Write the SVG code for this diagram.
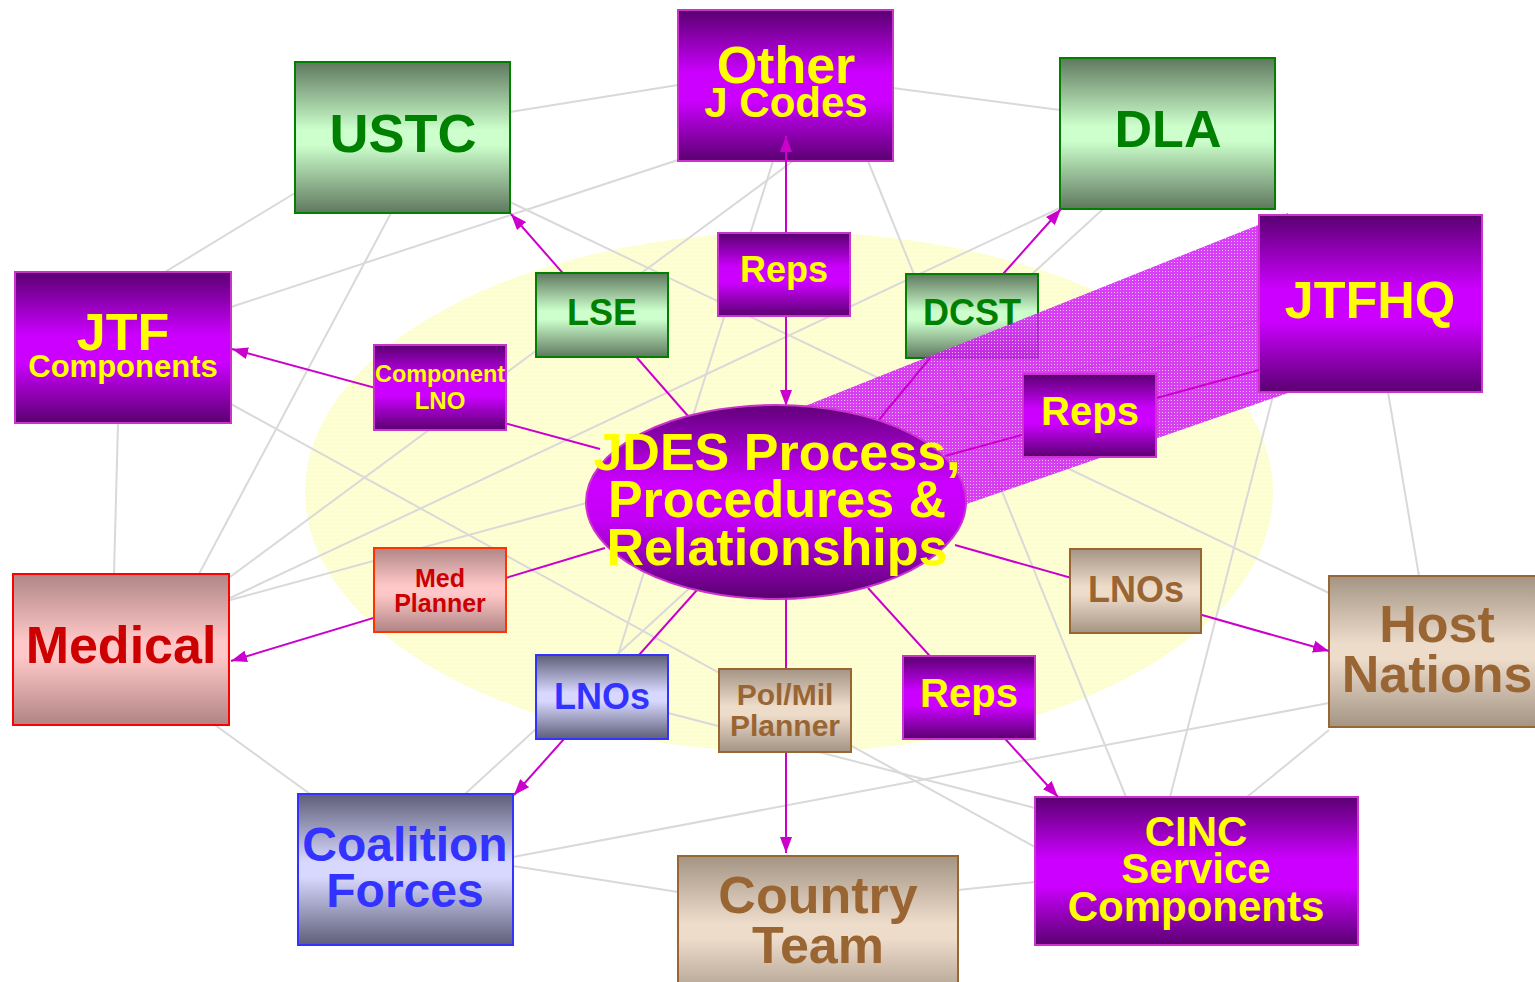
<svg xmlns="http://www.w3.org/2000/svg" width="1535" height="982" viewBox="0 0 1535 982">
<defs>
<style>
.gl{stroke:#d9d9d9;stroke-width:2;fill:none}
.mc{stroke:#cc00cc;stroke-width:2;fill:none}
.pu{fill:url(#gPu);stroke:#cc33cc;stroke-width:2}
.gr{fill:url(#gGr);stroke:#008000;stroke-width:2}
.rd{fill:url(#gRd);stroke:#ff0000;stroke-width:2}
.bl{fill:url(#gBl);stroke:#3333ff;stroke-width:2}
.tn{fill:url(#gTn);stroke:#996633;stroke-width:2}
text{font-family:"Liberation Sans",Arial,sans-serif;font-weight:bold;text-anchor:middle}
.ty{fill:#ffff00}
.tg{fill:#008000}
.tr{fill:#cc0000}
.tb{fill:#3333ff}
.tt{fill:#996633}
</style>
<linearGradient id="gPu" x1="0" y1="0" x2="0" y2="1">
<stop offset="0" stop-color="#5a0070"/><stop offset="0.42" stop-color="#cc00ff"/><stop offset="0.6" stop-color="#cc00ff"/><stop offset="1" stop-color="#5a0070"/>
</linearGradient>
<linearGradient id="gEl" x1="0" y1="0" x2="0" y2="1">
<stop offset="0" stop-color="#62007a"/><stop offset="0.4" stop-color="#cc00ff"/><stop offset="0.6" stop-color="#c400f5"/><stop offset="1" stop-color="#5a0070"/>
</linearGradient>
<linearGradient id="gGr" x1="0" y1="0" x2="0" y2="1">
<stop offset="0" stop-color="#5f785f"/><stop offset="0.45" stop-color="#ccffcc"/><stop offset="0.55" stop-color="#ccffcc"/><stop offset="1" stop-color="#5f785f"/>
</linearGradient>
<linearGradient id="gRd" x1="0" y1="0" x2="0" y2="1">
<stop offset="0" stop-color="#b08686"/><stop offset="0.45" stop-color="#ffc8c8"/><stop offset="0.55" stop-color="#ffc8c8"/><stop offset="1" stop-color="#b08484"/>
</linearGradient>
<linearGradient id="gBl" x1="0" y1="0" x2="0" y2="1">
<stop offset="0" stop-color="#5e5e78"/><stop offset="0.45" stop-color="#d8d8ff"/><stop offset="0.55" stop-color="#d8d8ff"/><stop offset="1" stop-color="#5e5e78"/>
</linearGradient>
<linearGradient id="gTn" x1="0" y1="0" x2="0" y2="1">
<stop offset="0" stop-color="#a39484"/><stop offset="0.45" stop-color="#eedccb"/><stop offset="0.55" stop-color="#eedccb"/><stop offset="1" stop-color="#a39484"/>
</linearGradient>
<pattern id="pY" width="4" height="4" patternUnits="userSpaceOnUse">
<rect width="4" height="4" fill="#fdfdd2"/><rect x="1" y="1" width="1" height="1" fill="#ffffff"/><rect x="3" y="2" width="1" height="1" fill="#ffffee"/>
</pattern>
<pattern id="pM" width="3" height="3" patternUnits="userSpaceOnUse">
<rect width="3" height="3" fill="#d11cf5" fill-opacity="0.85"/><rect x="1" y="1" width="1" height="1" fill="#ffffff" fill-opacity="0.7"/>
</pattern>
<marker id="ar" viewBox="0 0 16 12" refX="16" refY="6" markerWidth="16" markerHeight="12" markerUnits="userSpaceOnUse" orient="auto-start-reverse">
<path d="M0,0 L16,6 L0,12 Z" fill="#cc00cc"/>
</marker>
</defs>

<rect width="1535" height="982" fill="#ffffff"/>
<ellipse id="background" cx="789" cy="492" rx="484" ry="260" fill="url(#pY)"/>

<g id="gray-links">
<line class="gl" x1="510" y1="112" x2="678" y2="85"/>
<line class="gl" x1="893" y1="88" x2="1060" y2="110"/>
<line class="gl" x1="295" y1="193" x2="165" y2="272"/>
<line class="gl" x1="231" y1="307" x2="678" y2="160"/>
<line class="gl" x1="391" y1="213" x2="199" y2="574"/>
<line class="gl" x1="510" y1="202" x2="1329" y2="593"/>
<line class="gl" x1="793" y1="161" x2="230" y2="577"/>
<line class="gl" x1="868" y1="161" x2="1126" y2="797"/>
<line class="gl" x1="1060" y1="208" x2="230" y2="598"/>
<line class="gl" x1="1103" y1="209" x2="465" y2="794"/>
<line class="gl" x1="773" y1="161" x2="618" y2="655"/>
<line class="gl" x1="231" y1="404" x2="1035" y2="847"/>
<line class="gl" x1="118" y1="423" x2="114" y2="574"/>
<line class="gl" x1="230" y1="600" x2="1259" y2="320"/>
<line class="gl" x1="668" y1="713" x2="1035" y2="808"/>
<line class="gl" x1="1274" y1="392" x2="1170" y2="797"/>
<line class="gl" x1="1388" y1="392" x2="1419" y2="576"/>
<line class="gl" x1="1329" y1="730" x2="1247" y2="797"/>
<line class="gl" x1="513" y1="857" x2="1329" y2="703"/>
<line class="gl" x1="513" y1="866" x2="678" y2="892"/>
<line class="gl" x1="958" y1="890" x2="1035" y2="882"/>
<line class="gl" x1="215" y1="725" x2="310" y2="794"/>
</g>

<g id="node-dcst">
<rect class="gr" x="906" y="274" width="132" height="84"/>
<text class="tg" x="972" y="325" font-size="36">DCST</text>
</g>

<polygon id="jtfhq-band" points="790,412 1288,213 1288,393 900,527" fill="url(#pM)"/>

<g id="node-other">
<rect class="pu" x="678" y="10" width="215" height="151"/>
<text class="ty" x="786" y="83" font-size="52">Other</text>
<text class="ty" x="786" y="117" font-size="42">J Codes</text>
</g>
<g id="node-ustc">
<rect class="gr" x="295" y="62" width="215" height="151"/>
<text class="tg" x="403" y="152" font-size="54">USTC</text>
</g>
<g id="node-dla">
<rect class="gr" x="1060" y="58" width="215" height="151"/>
<text class="tg" x="1168" y="147" font-size="52">DLA</text>
</g>
<g id="node-jtfhq">
<rect class="pu" x="1259" y="215" width="223" height="177"/>
<text class="ty" x="1370" y="318" font-size="52">JTFHQ</text>
</g>
<g id="node-jtf">
<rect class="pu" x="15" y="272" width="216" height="151"/>
<text class="ty" x="123" y="350" font-size="52">JTF</text>
<text class="ty" x="123" y="377" font-size="31">Components</text>
</g>
<g id="node-medical">
<rect class="rd" x="13" y="574" width="216" height="151"/>
<text class="tr" x="121" y="663" font-size="52">Medical</text>
</g>
<g id="node-host">
<rect class="tn" x="1329" y="576" width="216" height="151"/>
<text class="tt" x="1437" y="642" font-size="52">Host</text>
<text class="tt" x="1437" y="692" font-size="52">Nations</text>
</g>
<g id="node-coalition">
<rect class="bl" x="298" y="794" width="215" height="151"/>
<text class="tb" x="405" y="861" font-size="48">Coalition</text>
<text class="tb" x="405" y="907" font-size="48">Forces</text>
</g>
<g id="node-country">
<rect class="tn" x="678" y="856" width="280" height="150"/>
<text class="tt" x="818" y="913" font-size="52">Country</text>
<text class="tt" x="818" y="963" font-size="52">Team</text>
</g>
<g id="node-cinc">
<rect class="pu" x="1035" y="797" width="323" height="148"/>
<text class="ty" x="1196" y="846" font-size="42">CINC</text>
<text class="ty" x="1196" y="883" font-size="42">Service</text>
<text class="ty" x="1196" y="921" font-size="42">Components</text>
</g>

<g id="connectors">
<path class="mc" d="M786,233 L786,136" marker-end="url(#ar)"/>
<path class="mc" d="M786,316 L786,406" marker-end="url(#ar)"/>
<path class="mc" d="M688,416 L511,214" marker-end="url(#ar)"/>
<path class="mc" d="M878,421 L930,358 M1003,274 L1061,209" marker-end="url(#ar)"/>
<path class="mc" d="M600,449 L232,349" marker-end="url(#ar)"/>
<path class="mc" d="M945,456 L1259,370"/>
<path class="mc" d="M605,548 L231,661" marker-end="url(#ar)"/>
<path class="mc" d="M697,590 L514,795" marker-end="url(#ar)"/>
<path class="mc" d="M786,598 L786,853" marker-end="url(#ar)"/>
<path class="mc" d="M868,588 L1058,797" marker-end="url(#ar)"/>
<path class="mc" d="M955,545 L1329,651" marker-end="url(#ar)"/>
</g>

<g id="node-jdes">
<ellipse cx="776" cy="502" rx="190" ry="97" fill="url(#gEl)" stroke="#cc33cc" stroke-width="2"/>
<text class="ty" x="777" y="470" font-size="52">JDES Process,</text>
<text class="ty" x="777" y="517" font-size="52">Procedures &amp;</text>
<text class="ty" x="777" y="565" font-size="52">Relationships</text>
</g>
<g id="node-component-lno">
<rect class="pu" x="374" y="345" width="132" height="85"/>
<text class="ty" x="440" y="382" font-size="24" textLength="130" lengthAdjust="spacingAndGlyphs">Component</text>
<text class="ty" x="440" y="409" font-size="24">LNO</text>
</g>
<g id="node-lse">
<rect class="gr" x="536" y="273" width="132" height="84"/>
<text class="tg" x="602" y="325" font-size="36">LSE</text>
</g>
<g id="node-reps-top">
<rect class="pu" x="718" y="233" width="132" height="83"/>
<text class="ty" x="784" y="282" font-size="36">Reps</text>
</g>
<g id="node-reps-right">
<rect class="pu" x="1023" y="374" width="133" height="83"/>
<text class="ty" x="1090" y="425" font-size="40">Reps</text>
</g>
<g id="node-med-planner">
<rect class="rd" x="374" y="548" width="132" height="84" style="stroke:#ff3300"/>
<text class="tr" x="440" y="587" font-size="25">Med</text>
<text class="tr" x="440" y="612" font-size="25">Planner</text>
</g>
<g id="node-lnos-blue">
<rect class="bl" x="536" y="655" width="132" height="84"/>
<text class="tb" x="602" y="709" font-size="36">LNOs</text>
</g>
<g id="node-polmil">
<rect class="tn" x="719" y="669" width="132" height="83"/>
<text class="tt" x="785" y="705" font-size="30">Pol/Mil</text>
<text class="tt" x="785" y="736" font-size="30">Planner</text>
</g>
<g id="node-reps-bottom">
<rect class="pu" x="903" y="656" width="132" height="83"/>
<text class="ty" x="969" y="707" font-size="40">Reps</text>
</g>
<g id="node-lnos-tan">
<rect class="tn" x="1070" y="549" width="131" height="84"/>
<text class="tt" x="1136" y="602" font-size="36">LNOs</text>
</g>
</svg>
